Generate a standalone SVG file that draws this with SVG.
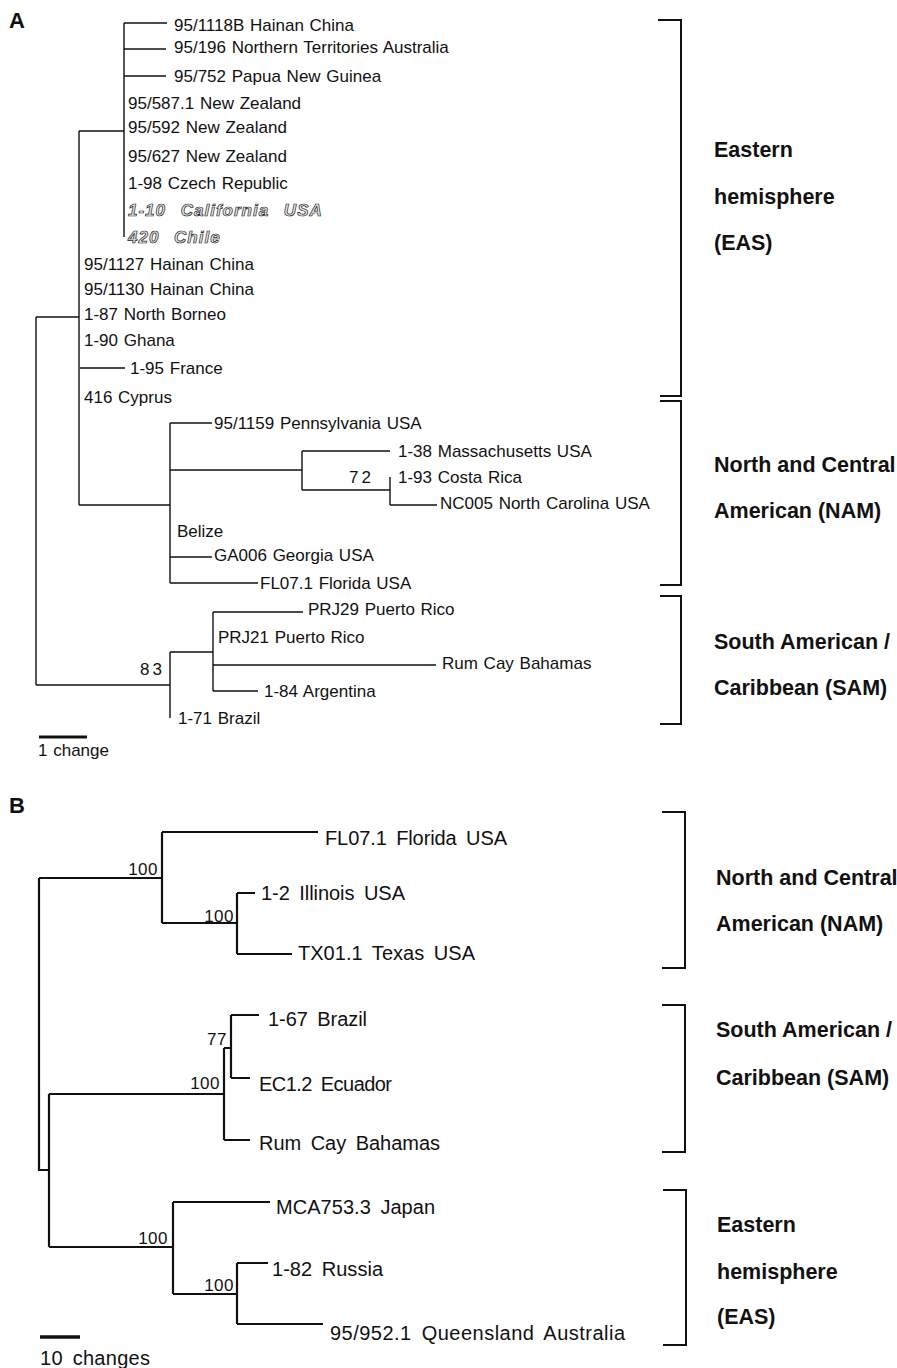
<svg xmlns="http://www.w3.org/2000/svg" width="897" height="1368" viewBox="0 0 897 1368">
<style>
text{font-family:"Liberation Sans",Arial,sans-serif;fill:#111}
.a{font-size:17px;word-spacing:1px}
.b{font-size:20px;word-spacing:4px}
.n{font-size:17px;letter-spacing:3px}
.nb{font-size:17px;letter-spacing:0.5px}
.h{font-size:22px;font-weight:bold}
.g{font-size:21.5px;font-weight:bold}
.o{font-size:17px;font-style:italic;font-weight:bold;fill:#e8e8e8;stroke:#222;stroke-width:0.7px;letter-spacing:1px;word-spacing:9px}
.la{fill:none;stroke:#111;stroke-width:1.4}
.lb{fill:none;stroke:#111;stroke-width:2.2}
.br{fill:none;stroke:#111;stroke-width:2}
</style>
<rect width="897" height="1368" fill="#fff"/>
<text class="h" x="9" y="28">A</text>
<text class="h" x="9" y="813">B</text>
<g id="connectors">
<path class="la" d="M124,23V237 M124,23H167 M124,49H166 M124,76H166 M79,131H124 M79,131V505 M80,368H125 M36,317H79 M36,317V685"/>
<path class="la" d="M79,505H170 M170,423V583 M170,423H212 M170,470H302 M302,451V490 M302,451H390 M302,490H390 M390,477V505 M390,505H437 M170,557H212 M170,583H258"/>
<path class="la" d="M36,685H170 M170,652V718 M170,652H213 M213,612V691 M213,612H303 M213,665H436 M213,691H258"/>
<path d="M39,737H87" stroke="#111" stroke-width="3"/>
<path class="lb" d="M39,878V1170H49 M39,878H162 M162,832V923 M162,832H318 M162,923H237 M237,893V954 M237,893H255 M237,954H292"/>
<path class="lb" d="M49,1094V1247 M49,1094H224 M224,1048V1140 M224,1048H231 M231,1015V1078 M231,1015H259 M231,1078H250 M224,1140H250"/>
<path class="lb" d="M49,1247H173 M173,1202V1294 M173,1202H270 M173,1294H237 M237,1263V1324 M237,1263H268 M237,1324H323"/>
<path d="M40,1337H80" stroke="#111" stroke-width="3.5"/>
</g>
<g id="treeA-leaves">
<g id="a1"><text class="a" x="174" y="31">95/1118B Hainan China</text></g>
<g id="a2"><text class="a" x="174" y="53">95/196 Northern Territories Australia</text></g>
<g id="a3"><text class="a" x="174" y="82">95/752 Papua New Guinea</text></g>
<g id="a4"><text class="a" x="128" y="109">95/587.1 New Zealand</text></g>
<g id="a5"><text class="a" x="128" y="133">95/592 New Zealand</text></g>
<g id="a6"><text class="a" x="128" y="162">95/627 New Zealand</text></g>
<g id="a7"><text class="a" x="128" y="189">1-98 Czech Republic</text></g>
<g id="a8"><text class="o" x="128" y="216">1-10 California USA</text></g>
<g id="a9"><text class="o" x="128" y="243">420 Chile</text></g>
<g id="a10"><text class="a" x="84" y="270">95/1127 Hainan China</text></g>
<g id="a11"><text class="a" x="84" y="295">95/1130 Hainan China</text></g>
<g id="a12"><text class="a" x="84" y="320">1-87 North Borneo</text></g>
<g id="a13"><text class="a" x="84" y="346">1-90 Ghana</text></g>
<g id="a14"><text class="a" x="130" y="374">1-95 France</text></g>
<g id="a15"><text class="a" x="84" y="403">416 Cyprus</text></g>
<g id="a16"><text class="a" x="214" y="429">95/1159 Pennsylvania USA</text></g>
<g id="a17"><text class="a" x="398" y="457">1-38 Massachusetts USA</text></g>
<g id="a18"><text class="a" x="398" y="483">1-93 Costa Rica</text></g>
<g id="a19"><text class="a" x="440" y="509">NC005 North Carolina USA</text></g>
<g id="a20"><text class="a" x="177" y="537">Belize</text></g>
<g id="a21"><text class="a" x="214" y="561">GA006 Georgia USA</text></g>
<g id="a22"><text class="a" x="260" y="589">FL07.1 Florida USA</text></g>
<g id="a23"><text class="a" x="308" y="615">PRJ29 Puerto Rico</text></g>
<g id="a24"><text class="a" x="218" y="643">PRJ21 Puerto Rico</text></g>
<g id="a25"><text class="a" x="442" y="669">Rum Cay Bahamas</text></g>
<g id="a26"><text class="a" x="264" y="697">1-84 Argentina</text></g>
<g id="a27"><text class="a" x="178" y="724">1-71 Brazil</text></g>
<g id="a-s72"><text class="n" x="374" y="483" text-anchor="end">72</text></g>
<g id="a-s83"><text class="n" x="165" y="675" text-anchor="end">83</text></g>
<g id="a-scale"><text class="a" x="38" y="756">1 change</text></g>
</g>
<g id="treeB-leaves">
<g id="b1"><text class="b" x="325" y="845" textLength="182" lengthAdjust="spacing">FL07.1 Florida USA</text></g>
<g id="b2"><text class="b" x="261" y="900" textLength="144" lengthAdjust="spacing">1-2 Illinois USA</text></g>
<g id="b3"><text class="b" x="298" y="960" textLength="177" lengthAdjust="spacing">TX01.1 Texas USA</text></g>
<g id="b4"><text class="b" x="268" y="1026" textLength="99" lengthAdjust="spacing">1-67 Brazil</text></g>
<g id="b5"><text class="b" x="259" y="1091" textLength="133" lengthAdjust="spacing">EC1.2 Ecuador</text></g>
<g id="b6"><text class="b" x="259" y="1150" textLength="181" lengthAdjust="spacing">Rum Cay Bahamas</text></g>
<g id="b7"><text class="b" x="276" y="1214" textLength="159" lengthAdjust="spacing">MCA753.3 Japan</text></g>
<g id="b8"><text class="b" x="272" y="1276" textLength="111" lengthAdjust="spacing">1-82 Russia</text></g>
<g id="b9"><text class="b" x="330" y="1340" textLength="295" lengthAdjust="spacing">95/952.1 Queensland Australia</text></g>
<g id="b-s1"><text class="nb" x="158" y="875" text-anchor="end">100</text></g>
<g id="b-s2"><text class="nb" x="234" y="922" text-anchor="end">100</text></g>
<g id="b-s3"><text class="nb" x="227" y="1045" text-anchor="end">77</text></g>
<g id="b-s4"><text class="nb" x="220" y="1089" text-anchor="end">100</text></g>
<g id="b-s5"><text class="nb" x="168" y="1244" text-anchor="end">100</text></g>
<g id="b-s6"><text class="nb" x="234" y="1291" text-anchor="end">100</text></g>
<g id="b-scale"><text class="b" x="40" y="1365" textLength="110" lengthAdjust="spacing">10 changes</text></g>
</g>
<g id="groupA-EAS"><path class="br" d="M658,20H681V396H660"/>
<text class="g" x="714" y="157">Eastern</text><text class="g" x="714" y="204">hemisphere</text><text class="g" x="714" y="250">(EAS)</text></g>
<g id="groupA-NAM"><path class="br" d="M660,401H681V585H660"/>
<text class="g" x="714" y="472">North and Central</text><text class="g" x="714" y="518">American (NAM)</text></g>
<g id="groupA-SAM"><path class="br" d="M660,596H681V724H660"/>
<text class="g" x="714" y="649">South American /</text><text class="g" x="714" y="695">Caribbean (SAM)</text></g>
<g id="groupB-NAM"><path class="br" d="M662,812H685V968H662"/>
<text class="g" x="716" y="885">North and Central</text><text class="g" x="716" y="931">American (NAM)</text></g>
<g id="groupB-SAM"><path class="br" d="M662,1005H685V1152H662"/>
<text class="g" x="716" y="1037">South American /</text><text class="g" x="716" y="1085">Caribbean (SAM)</text></g>
<g id="groupB-EAS"><path class="br" d="M663,1190H686V1345H663"/>
<text class="g" x="717" y="1232">Eastern</text><text class="g" x="717" y="1279">hemisphere</text><text class="g" x="717" y="1324">(EAS)</text></g>
</svg>
